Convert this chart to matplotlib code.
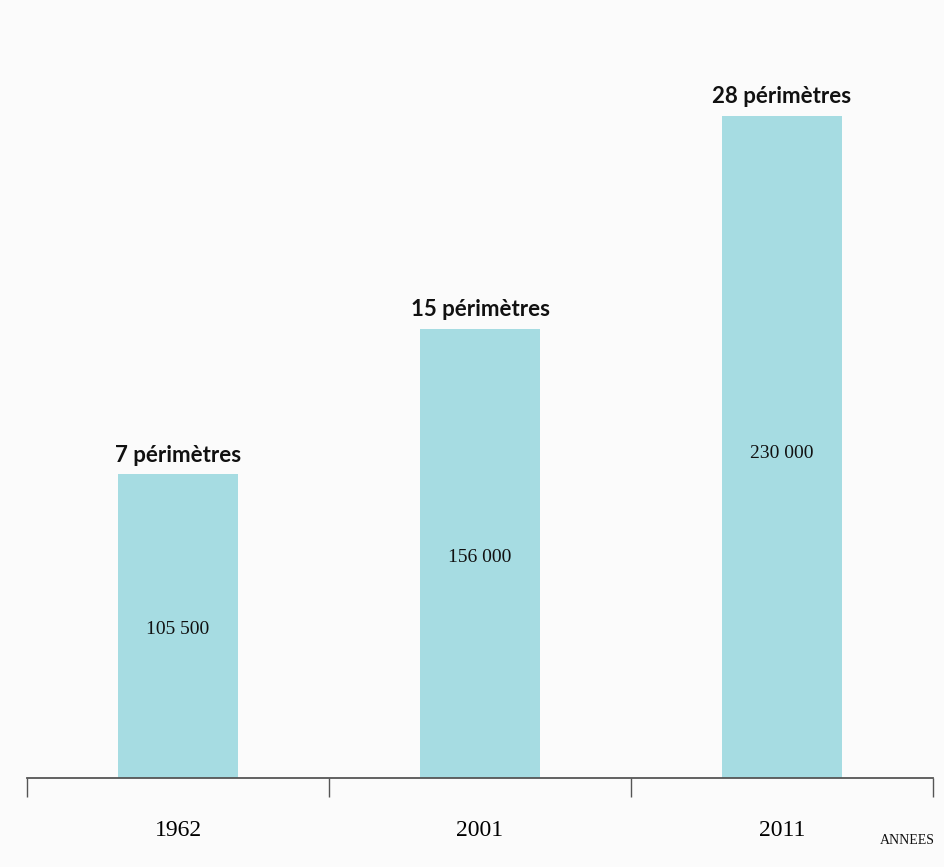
import numpy as np
import matplotlib.pyplot as plt

# data
years = ['1962', '2001', '2011']
surfaces = [105500, 156000, 230000]
perimetres = [7, 15, 28]
surface_labels = ['105 500', '156 000', '230 000']

bar_color = '#a6dce2'

fig = plt.figure(figsize=(9.45, 8.67), dpi=100)
fig.patch.set_facecolor('#fbfbfb')
ax = fig.add_axes([0.0286, 0.1026, 0.9587, 0.8304])
ax.set_facecolor('#fbfbfb')

x = np.arange(len(years))
bars = ax.bar(x, surfaces, width=0.4, color=bar_color, zorder=2)

ax.set_xlim(-0.5, len(years) - 0.5)
ax.set_ylim(0, 250000)

# labels above and inside the bars
for xi, val, n, lab in zip(x, surfaces, perimetres, surface_labels):
    ax.annotate(f'{n} périmètres', xy=(xi, val), xytext=(0, 6),
                textcoords='offset points', ha='center', va='bottom',
                fontsize=16, fontweight='bold',
                family=['Lato', 'DejaVu Sans'], color='#111111')
    ax.text(xi, val * 0.49, lab, ha='center', va='center',
            fontsize=14, family='Liberation Serif', color='#111111')

# axis: only a baseline with downward separator ticks
for side in ['left', 'right', 'top']:
    ax.spines[side].set_visible(False)
ax.spines['bottom'].set_color('#555555')
ax.spines['bottom'].set_linewidth(1.3)
ax.set_yticks([])

ax.set_xticks(x)
ax.set_xticklabels(years, family='Liberation Serif', fontsize=17)
ax.tick_params(axis='x', which='major', length=0, pad=30)
ax.set_xticks(np.arange(-0.5, len(years)), minor=True)
ax.tick_params(axis='x', which='minor', length=14, width=1.0, color='#555555',
               direction='out')

fig.text(0.989, 0.031, 'ANNEES', ha='right', va='center',
         fontsize=10, family='Liberation Serif', color='#111111')

fig.savefig('out.png', dpi=100, facecolor=fig.get_facecolor())
